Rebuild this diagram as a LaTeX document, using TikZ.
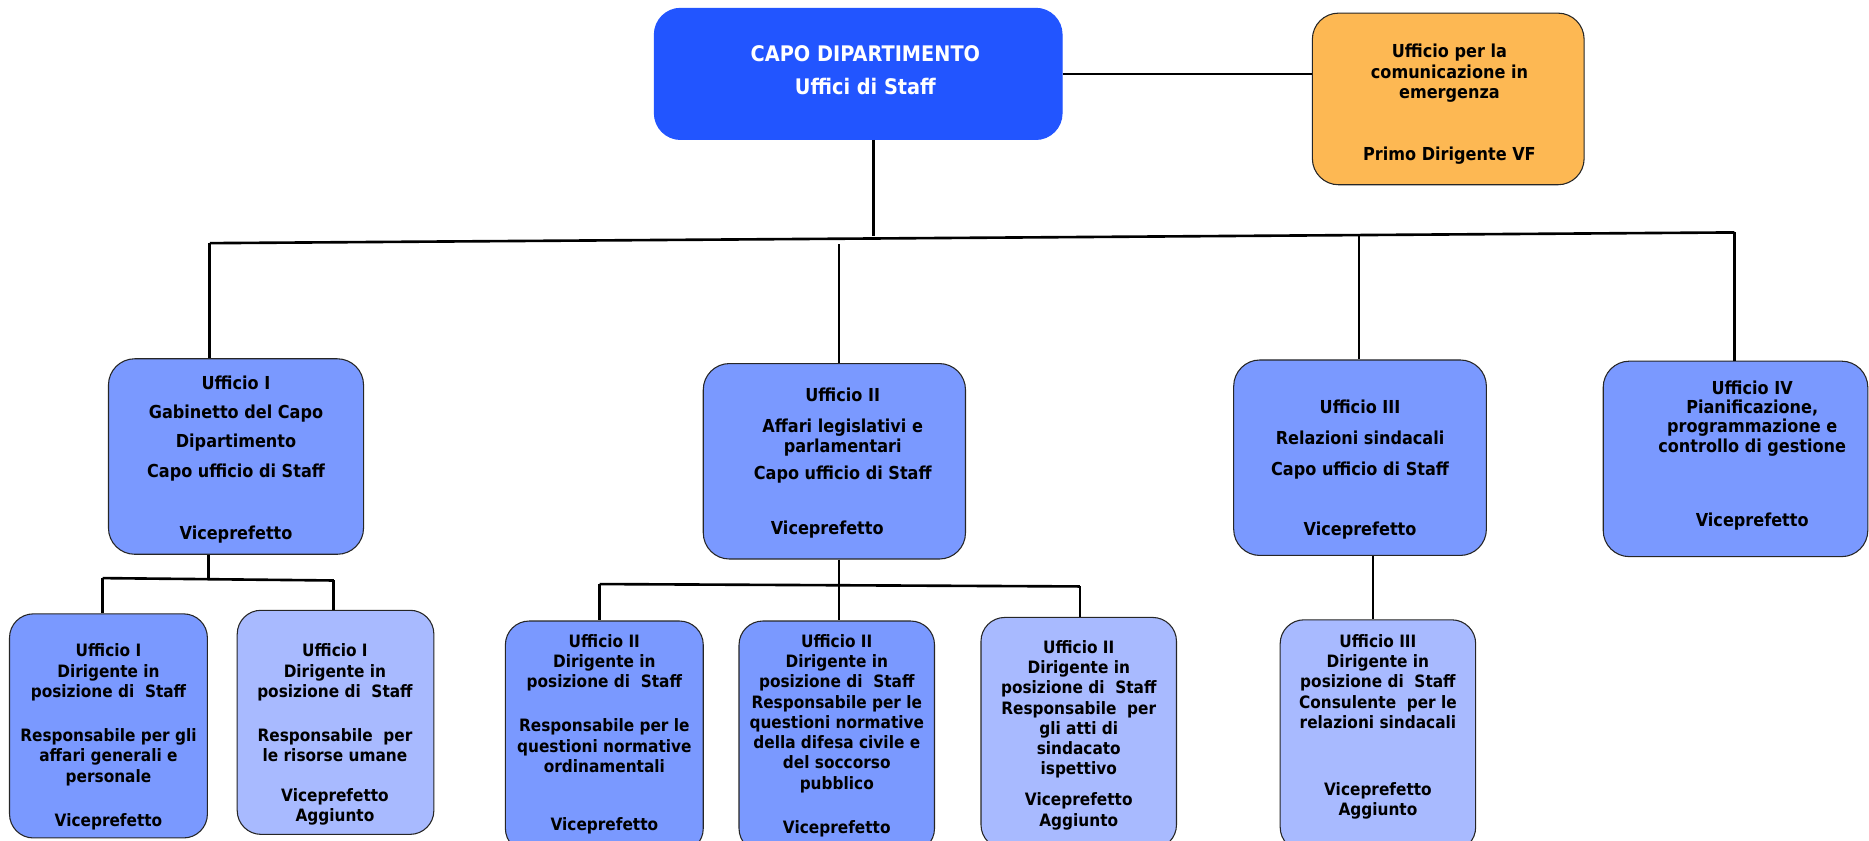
\documentclass[tikz,border=0pt]{standalone}
\usepackage{fontspec}
\setmainfont{DejaVu Sans}
\newfontfamily\nf{DejaVu Sans}[FakeStretch=0.9]
\definecolor{capoc}{HTML}{2255FF}
\definecolor{orangec}{HTML}{FDB853}
\definecolor{midc}{HTML}{7A99FF}
\definecolor{lightc}{HTML}{A8BAFF}
\begin{document}
\begin{tikzpicture}[x=1pt,y=-1pt,
  box/.style={draw=black!85, line width=0.9pt, rounded corners=22pt, inner sep=0pt},
  subbox/.style={box, rounded corners=20pt},
  conn/.style={line width=2.2pt, black},
  txt/.style={align=center, inner sep=0pt, anchor=north, text=black},
  bigf/.style={font=\nf\bfseries\fontsize{15}{17}\selectfont},
  smallf/.style={font=\nf\bfseries\fontsize{14.3}{17}\selectfont}]
\useasboundingbox (0,0) rectangle (1568,705.5);
\clip (0,0) rectangle (1568,705.5);

% boxes
\node[box, draw=capoc, fill=capoc, minimum width=342pt, minimum height=110pt] (capo) at (720,62) {};
\node[box, fill=orangec, minimum width=228pt, minimum height=144pt] (orange) at (1215,83) {};
\node[box, fill=midc, minimum width=214pt, minimum height=164pt] (u1) at (198,383) {};
\node[box, fill=midc, minimum width=220pt, minimum height=164pt] (u2) at (700,387) {};
\node[box, fill=midc, minimum width=212pt, minimum height=164pt] (u3) at (1141,384) {};
\node[box, fill=midc, minimum width=222pt, minimum height=164pt] (u4) at (1456,385) {};
\node[subbox, fill=midc, minimum width=166pt, minimum height=188pt] (s1a) at (91,609) {};
\node[subbox, fill=lightc, minimum width=165pt, minimum height=188pt] (s1b) at (281.5,606) {};
\node[subbox, fill=midc, minimum width=166pt, minimum height=194pt] (s2a) at (507,618) {};
\node[subbox, fill=midc, minimum width=164pt, minimum height=194pt] (s2b) at (702,618) {};
\node[subbox, fill=lightc, minimum width=164pt, minimum height=194pt] (s2c) at (905,615) {};
\node[subbox, fill=lightc, minimum width=164pt, minimum height=194pt] (s3) at (1156,617) {};

% texts
\node[txt, text=white, font=\nf\bfseries\fontsize{18}{28}\selectfont] (capot) at (726,38)
  {CAPO DIPARTIMENTO\\Uffici di Staff};
\node[txt, bigf] (oranget) at (1216,37)
  {Ufficio per la\\comunicazione in\\emergenza\\[35pt]Primo Dirigente VF};
\node[txt, font=\nf\bfseries\fontsize{15}{24.6}\selectfont] (u1t) at (198,315)
  {Ufficio I\\Gabinetto del Capo\\Dipartimento\\Capo ufficio di Staff\\[27.5pt]Viceprefetto};
\node[txt, bigf] (u2t) at (707,325)
  {Ufficio II\\[9pt]Affari legislativi e\\parlamentari\\[6pt]Capo ufficio di Staff\\[29pt]Viceprefetto\hspace*{26pt}};
\node[txt, font=\nf\bfseries\fontsize{15}{26}\selectfont] (u3t) at (1141,335)
  {Ufficio III\\Relazioni sindacali\\Capo ufficio di Staff\\[25pt]Viceprefetto};
\node[txt, font=\nf\bfseries\fontsize{15}{16.3}\selectfont] (u4t) at (1470,319)
  {Ufficio IV\\Pianificazione,\\programmazione e\\controllo di gestione\\[46pt]Viceprefetto};
\node[txt, smallf] (s1at) at (91,540)
  {Ufficio I\\Dirigente in\\posizione di~~Staff\\[20pt]Responsabile per gli\\affari generali e\\personale\\[20pt]Viceprefetto};
\node[txt, smallf] (s1bt) at (281,540)
  {Ufficio I\\Dirigente in\\posizione di~~Staff\\[20pt]Responsabile~~per\\le risorse umane\\[16pt]Viceprefetto\\Aggiunto};
\node[txt, smallf] (s2at) at (507,532)
  {Ufficio II\\Dirigente in\\posizione di~~Staff\\[20pt]Responsabile per le\\questioni normative\\ordinamentali\\[32pt]Viceprefetto};
\node[txt, smallf] (s2bt) at (702,532)
  {Ufficio II\\Dirigente in\\posizione di~~Staff\\Responsabile per le\\questioni normative\\della difesa civile e\\del soccorso\\pubblico\\[20pt]Viceprefetto};
\node[txt, smallf] (s2ct) at (905,537)
  {Ufficio II\\Dirigente in\\posizione di~~Staff\\Responsabile~~per\\gli atti di\\sindacato\\ispettivo\\[9pt]Viceprefetto\\Aggiunto};
\node[txt, smallf] (s3t) at (1156,532)
  {Ufficio III\\Dirigente in\\posizione di~~Staff\\Consulente~~per le\\relazioni sindacali\\[39pt]Viceprefetto\\Aggiunto};

% connectors
\coordinate (cdown) at (733,198);
\coordinate (hl) at (176,204);
\coordinate (hr) at (1455,195);
\coordinate (d2) at (704,205);
\coordinate (d3) at (1140,197);
\draw[conn] (capo.east) -- (capo.east -| orange.west);
\draw[conn] (capo.south -| cdown) -- (cdown);
\draw[conn] (hl) -- (hr);
\draw[conn] (hl) -- (hl |- u1.north);
\draw[conn] (d2) -- (d2 |- u2.north);
\draw[conn] (d3) -- (d3 |- u3.north);
\draw[conn] (hr) -- (hr |- u4.north);

\coordinate (j1) at (175,486);
\coordinate (j1l) at (86,485);
\coordinate (j1r) at (280,487);
\draw[conn] (u1.south -| j1) -- (j1);
\draw[conn] (j1l) -- (j1r);
\draw[conn] (j1l) -- (j1l |- s1a.north);
\draw[conn] (j1r) -- (j1r |- s1b.north);

\coordinate (j2l) at (503,490);
\coordinate (j2r) at (906,492);
\coordinate (j2m) at (704,491);
\draw[conn] (j2l) -- (j2r);
\draw[conn] (u2.south -| j2m) -- (j2m |- s2b.north);
\draw[conn] (j2l) -- (j2l |- s2a.north);
\draw[conn] (j2r) -- (j2r |- s2c.north);

\coordinate (j3) at (1152,466);
\draw[conn] (u3.south -| j3) -- (j3 |- s3.north);
\end{tikzpicture}
\end{document}
